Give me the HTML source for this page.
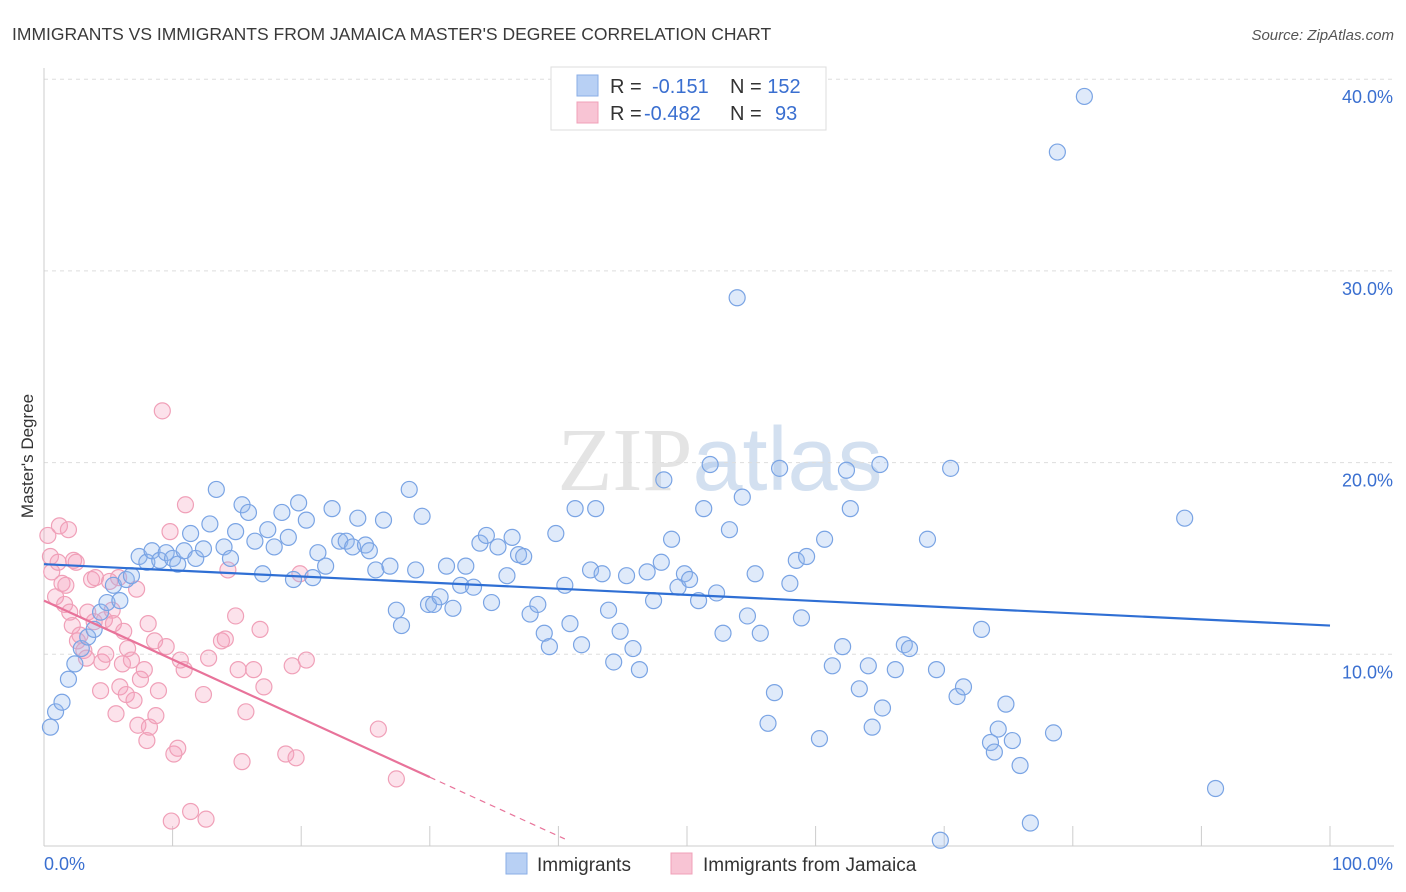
<!DOCTYPE html>
<html><head><meta charset="utf-8"><style>
body{margin:0;background:#fff;font-family:"Liberation Sans",sans-serif;}
svg{display:block}
</style></head><body>
<svg id="chart" width="1406" height="892" xmlns="http://www.w3.org/2000/svg">
<text x="12" y="40" font-size="17.5" fill="#3a3a3a">IMMIGRANTS VS IMMIGRANTS FROM JAMAICA MASTER'S DEGREE CORRELATION CHART</text>
<text x="1394" y="40" font-size="15" fill="#555" text-anchor="end" font-style="italic">Source: ZipAtlas.com</text>
<text x="720" y="490" font-size="90" text-anchor="middle" fill="#e4e4e4" font-family="Liberation Serif,serif">ZIP<tspan fill="#d3e0f0" font-family="Liberation Sans,sans-serif">atlas</tspan></text>
<text transform="translate(33,456) rotate(-90)" font-size="17" fill="#333" text-anchor="middle">Master's Degree</text>
<g id="grid"></g><g id="axes"></g><g id="pts"></g><g id="trend"></g>
<g>
<rect x="551" y="67" width="275" height="63" fill="#fff" stroke="#ddd"/>
<rect x="577" y="75" width="21" height="21" fill="#b8d0f4" stroke="#8aaee6"/>
<rect x="577" y="102" width="21" height="21" fill="#f8c4d4" stroke="#f0a0b8"/>
<text x="610" y="93" font-size="20" fill="#333">R = <tspan fill="#3a6fd0" x="652">-0.151</tspan><tspan x="730" fill="#333">N = </tspan><tspan fill="#3a6fd0">152</tspan></text>
<text x="610" y="120" font-size="20" fill="#333">R = <tspan fill="#3a6fd0" x="644">-0.482</tspan><tspan x="730" fill="#333">N = </tspan><tspan fill="#3a6fd0" x="775">93</tspan></text>
</g>
<g>
<rect x="506" y="853" width="21" height="21" fill="#b8d0f4" stroke="#8aaee6"/>
<text x="537" y="871" font-size="19" fill="#333">Immigrants</text>
<rect x="671" y="853" width="21" height="21" fill="#f8c4d4" stroke="#f0a0b8"/>
<text x="703" y="871" font-size="19" fill="#333">Immigrants from Jamaica</text>
</g>
</svg>
<script>
const yTicks=[10,20,30,40];
const yTickLabels=["10.0%","20.0%","30.0%","40.0%"];
const xTickVals=[0,10,20,30,40,50,60,70,80,90,100];
const blueX=[0.5,0.9,1.4,1.9,2.4,2.9,3.4,3.9,4.4,4.9,5.4,5.9,6.4,6.8,7.4,8.0,8.4,9.0,9.5,10.0,10.4,10.9,11.4,11.8,12.4,12.9,13.4,14.0,14.5,14.9,15.4,15.9,16.4,17.0,17.4,17.9,18.5,19.0,19.4,19.8,20.4,20.9,21.3,21.9,22.4,23.0,23.5,24.0,24.4,25.0,25.3,25.8,26.4,26.9,27.4,27.8,28.4,28.9,29.4,29.9,30.3,30.8,31.3,31.8,32.4,32.8,33.4,33.9,34.4,34.8,35.3,36.0,36.4,36.9,37.3,37.8,38.4,38.9,39.3,39.8,40.5,40.9,41.3,41.8,42.5,42.9,43.4,43.9,44.3,44.8,45.3,45.8,46.3,46.9,47.4,48.0,48.2,48.8,49.3,49.8,50.2,50.9,51.3,51.8,52.3,52.8,53.3,53.9,54.3,54.7,55.3,55.7,56.3,56.8,57.2,58.0,58.5,58.9,59.3,60.3,60.7,61.3,62.1,62.4,62.7,63.4,64.1,64.4,65.0,65.2,66.2,66.9,67.3,68.7,69.4,69.7,70.5,71.0,71.5,72.9,73.6,73.9,74.2,74.8,75.3,75.9,76.7,78.5,78.8,80.9,88.7,91.1];
const blueY=[6.2,7.0,7.5,8.7,9.5,10.3,10.9,11.3,12.2,12.7,13.6,12.8,13.9,14.1,15.1,14.8,15.4,14.9,15.3,15.0,14.7,15.4,16.3,15.0,15.5,16.8,18.6,15.6,15.0,16.4,17.8,17.4,15.9,14.2,16.5,15.6,17.4,16.1,13.9,17.9,17.0,14.0,15.3,14.6,17.6,15.9,15.9,15.6,17.1,15.7,15.4,14.4,17.0,14.6,12.3,11.5,18.6,14.4,17.2,12.6,12.6,13.0,14.6,12.4,13.6,14.6,13.5,15.8,16.2,12.7,15.6,14.1,16.1,15.2,15.1,12.1,12.6,11.1,10.4,16.3,13.6,11.6,17.6,10.5,14.4,17.6,14.2,12.3,9.6,11.2,14.1,10.3,9.2,14.3,12.8,14.8,19.1,16.0,13.5,14.2,13.9,12.8,17.6,19.9,13.2,11.1,16.5,28.6,18.2,12.0,14.2,11.1,6.4,8.0,19.7,13.7,14.9,11.9,15.1,5.6,16.0,9.4,10.4,19.6,17.6,8.2,9.4,6.2,19.9,7.2,9.2,10.5,10.3,16.0,9.2,0.3,19.7,7.8,8.3,11.3,5.4,4.9,6.1,7.4,5.5,4.2,1.2,5.9,36.2,39.1,17.1,3.0];
const pinkX=[0.3,0.5,0.6,0.9,1.1,1.2,1.4,1.6,1.7,1.9,2.0,2.2,2.3,2.5,2.6,2.8,3.1,3.3,3.4,3.7,3.9,4.0,4.4,4.5,4.7,4.8,5.1,5.3,5.4,5.6,5.8,5.9,6.1,6.2,6.4,6.5,6.8,7.0,7.2,7.3,7.5,7.8,8.0,8.1,8.2,8.6,8.7,8.9,9.2,9.5,9.8,9.9,10.1,10.4,10.6,10.9,11.0,11.4,12.4,12.6,12.8,13.8,14.1,14.3,14.9,15.1,15.4,15.7,16.3,16.8,17.1,18.8,19.3,19.6,19.9,20.4,26.0,27.4];
const pinkY=[16.2,15.1,14.3,13.0,14.8,16.7,13.7,12.6,13.6,16.5,12.2,11.5,14.9,14.8,10.7,11.0,10.2,9.8,12.2,13.9,11.7,14.0,8.1,9.6,11.8,10.0,13.8,12.3,11.6,6.9,14.0,8.3,9.5,11.2,7.9,10.3,9.7,7.6,13.4,6.3,8.7,9.2,5.5,11.6,6.2,10.7,6.8,8.1,22.7,10.4,16.4,1.3,4.8,5.1,9.7,9.2,17.8,1.8,7.9,1.4,9.8,10.7,10.8,14.4,12.0,9.2,4.4,7.0,9.2,11.3,8.3,4.8,9.4,4.6,14.2,9.7,6.1,3.5];
const blueTrend=[14.7,11.5];
const pinkTrend=[12.8,-0.307];
const NS="http://www.w3.org/2000/svg";
const X0=44,X1=1330,Y0=846,YS=19.17;
const sx=v=>X0+(X1-X0)*v/100, sy=v=>Y0-v*YS;
function mk(t,a,p){const e=document.createElementNS(NS,t);for(const k in a)e.setAttribute(k,a[k]);p.appendChild(e);return e;}
const grid=document.getElementById('grid'),axes=document.getElementById('axes'),pts=document.getElementById('pts'),tr=document.getElementById('trend');
yTicks.forEach((v,i)=>{
 const l=mk('line',{x1:X0,x2:1394,y1:sy(v),y2:sy(v),stroke:'#ddd','stroke-dasharray':'4,4'},grid);
 
 
 const t=mk('text',{x:1393,y:sy(v)+24,'font-size':18,fill:'#3a6fd0','text-anchor':'end'},axes);
 t.textContent=yTickLabels[i];
 
 
});
const ax=mk('line',{x1:X0,x2:X0,y1:68,y2:Y0,stroke:'#ccc'},axes);


const bx=mk('line',{x1:X0,x2:1394,y1:Y0,y2:Y0,stroke:'#ccc'},axes);


xTickVals.forEach(v=>{
 const t=mk('line',{x1:sx(v),x2:sx(v),y1:Y0,y2:Y0-20,stroke:'#ccc'},axes);
 
 
});
const xl=mk('text',{x:44,y:870,'font-size':18,fill:'#3a6fd0'},axes);xl.textContent='0.0%';


const xr=mk('text',{x:1393,y:870,'font-size':18,fill:'#3a6fd0','text-anchor':'end'},axes);xr.textContent='100.0%';


pinkX.forEach((v,i)=>{
 const c=mk('circle',{cx:sx(v),cy:sy(pinkY[i]),r:8,fill:'rgba(244,160,188,0.3)',stroke:'#f0a0b8','stroke-width':1.2},pts);
 
 
});
blueX.forEach((v,i)=>{
 const c=mk('circle',{cx:sx(v),cy:sy(blueY[i]),r:8,fill:'rgba(150,185,240,0.3)',stroke:'#7aa4e4','stroke-width':1.2},pts);
 
 
});
const bl=mk('line',{x1:sx(0),y1:sy(blueTrend[0]),x2:sx(100),y2:sy(blueTrend[1]),stroke:'#2f6fd4','stroke-width':2.2},tr);


const pf=x=>pinkTrend[0]+pinkTrend[1]*x;
const pl=mk('line',{x1:sx(0),y1:sy(pf(0)),x2:sx(30),y2:sy(pf(30)),stroke:'#e8739a','stroke-width':2.2},tr);


const pd=mk('line',{x1:sx(30),y1:sy(pf(30)),x2:sx(40.5),y2:sy(pf(40.5)),stroke:'#e8739a','stroke-width':1.2,'stroke-dasharray':'6,5'},tr);


</script>
</body></html>
